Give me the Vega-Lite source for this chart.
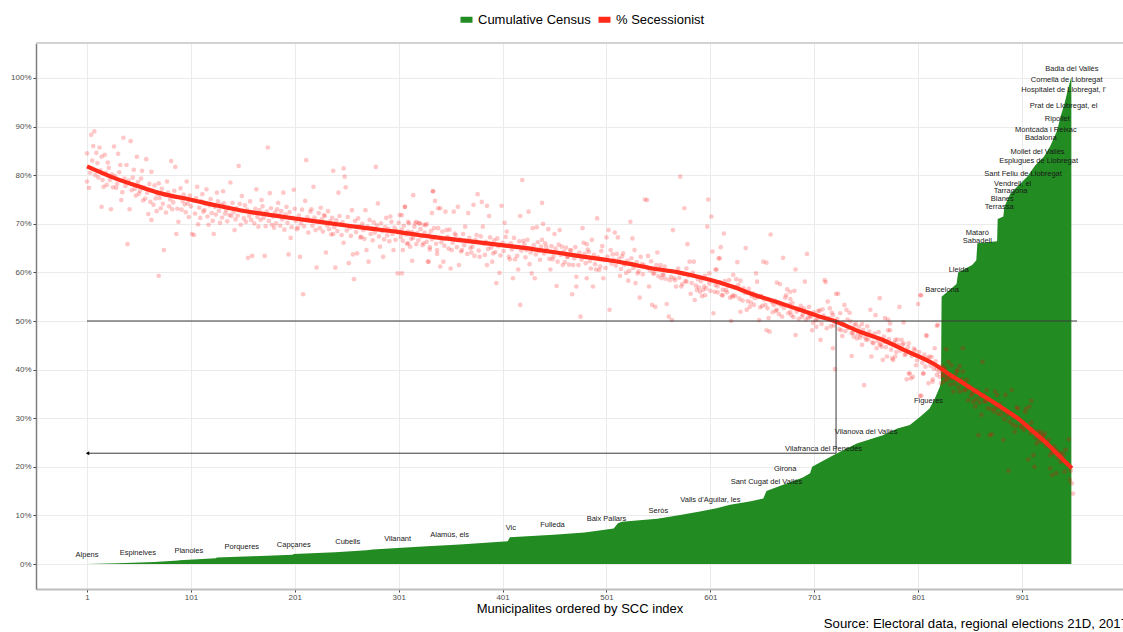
{
"$schema": "https://vega.github.io/schema/vega-lite/v6.json",
"width": 1087, "height": 546,
"autosize": {"type": "none"},
"padding": {"left": 36, "top": 43, "right": 0, "bottom": 43},
"title": {"text": "Source: Electoral data, regional elections 21D, 2017", "orient": "bottom", "anchor": "end", "fontSize": 13.2, "fontWeight": "normal", "font": "Liberation Sans", "color": "#000", "offset": 3, "dx": 4},
"config": {"view": {"stroke": null}, "font": "Liberation Sans",
  "axis": {"gridColor": "#EBEBEB", "gridWidth": 1, "labelColor": "#4D4D4D", "labelFontSize": 8, "tickColor": "#444", "tickSize": 3, "labelFont": "Liberation Sans", "titleFont": "Liberation Sans"},
  "legend": {"orient": "none", "legendX": 424, "legendY": -30, "direction": "horizontal", "labelFontSize": 13, "labelFont": "Liberation Sans", "labelColor": "#000", "symbolType": "M-1,-0.5H1V0.5H-1Z", "symbolSize": 144, "symbolStrokeWidth": 0, "symbolOpacity": 1, "columnPadding": 7, "labelOffset": 5}},
"datasets": {
"census": [{"i":1,"v":0},{"i":30,"v":0.15},{"i":66,"v":0.4},{"i":89,"v":0.7},{"i":90,"v":0.78},{"i":125,"v":1.2},{"i":126,"v":1.35},{"i":160,"v":1.6},{"i":199,"v":1.9},{"i":200,"v":2.05},{"i":240,"v":2.4},{"i":270,"v":2.85},{"i":276,"v":3.0},{"i":324,"v":3.6},{"i":360,"v":4.0},{"i":406,"v":4.7},{"i":408,"v":5.5},{"i":450,"v":6.0},{"i":480,"v":6.5},{"i":508,"v":7.3},{"i":512,"v":8.4},{"i":516,"v":8.7},{"i":533,"v":9.0},{"i":550,"v":9.3},{"i":572,"v":10.1},{"i":591,"v":10.8},{"i":607,"v":11.5},{"i":620,"v":12.2},{"i":640,"v":12.9},{"i":652,"v":13.5},{"i":655,"v":15.0},{"i":671,"v":16.3},{"i":690,"v":17.8},{"i":697,"v":18.7},{"i":699,"v":20.0},{"i":710,"v":21.3},{"i":723,"v":22.8},{"i":742,"v":24.8},{"i":767,"v":26.5},{"i":781,"v":27.9},{"i":793,"v":28.6},{"i":803,"v":30.3},{"i":812,"v":32.0},{"i":817,"v":34.0},{"i":822,"v":36.5},{"i":823,"v":37.5},{"i":823.6,"v":55.0},{"i":838,"v":57.6},{"i":839.5,"v":60.0},{"i":853,"v":61.5},{"i":857,"v":62.5},{"i":858,"v":66.0},{"i":877,"v":66.4},{"i":877.6,"v":71.0},{"i":883,"v":71.5},{"i":884,"v":73.5},{"i":890,"v":76.3},{"i":900,"v":78.4},{"i":906,"v":79.7},{"i":914,"v":82.1},{"i":922,"v":83.8},{"i":928,"v":85.9},{"i":935,"v":89.3},{"i":938,"v":92.0},{"i":942,"v":94.8},{"i":945,"v":97.5},{"i":948,"v":99.9},{"i":948.5,"v":100}],
"smooth": [{"i":1,"v":81.8},{"i":25,"v":79.6},{"i":52,"v":77.6},{"i":75,"v":76.1},{"i":100,"v":75.0},{"i":125,"v":73.8},{"i":148,"v":72.8},{"i":175,"v":71.9},{"i":201,"v":71.1},{"i":225,"v":70.4},{"i":245,"v":69.8},{"i":270,"v":69.1},{"i":301,"v":68.3},{"i":320,"v":67.7},{"i":341,"v":67.1},{"i":370,"v":66.4},{"i":400,"v":65.6},{"i":430,"v":64.8},{"i":456,"v":64.0},{"i":480,"v":63.2},{"i":500,"v":62.6},{"i":522,"v":61.8},{"i":543,"v":60.9},{"i":570,"v":60.0},{"i":591,"v":59.0},{"i":610,"v":57.9},{"i":625,"v":56.9},{"i":639,"v":55.7},{"i":665,"v":53.9},{"i":687,"v":52.3},{"i":705,"v":51.0},{"i":719,"v":50.1},{"i":745,"v":47.8},{"i":767,"v":46.1},{"i":790,"v":43.8},{"i":815,"v":41.3},{"i":832,"v":38.9},{"i":846,"v":37.0},{"i":860,"v":35.1},{"i":880,"v":32.4},{"i":899,"v":29.6},{"i":912,"v":27.2},{"i":925,"v":24.8},{"i":938,"v":22.0},{"i":949,"v":19.7}],
"segs": [{"i":1,"i2":954,"v":50,"v2":50},{"i":722,"i2":722,"v":50,"v2":22.8},{"i":722,"i2":1,"v":22.8,"v2":22.8}],
"head": [{"i":1.5,"v":22.8}],
"labels": [{"n":"Alpens","i":1,"v":1.85},{"n":"Espinelves","i":50,"v":2.2},{"n":"Planoles","i":99,"v":2.7},{"n":"Porqueres","i":150,"v":3.4},{"n":"Capçanes","i":200,"v":3.9},{"n":"Cubells","i":252,"v":4.5},{"n":"Vilanant","i":300,"v":5.2},{"n":"Alamús, els","i":350,"v":5.9},{"n":"Vic","i":409,"v":7.5},{"n":"Fulleda","i":449,"v":8.0},{"n":"Baix Pallars","i":501,"v":9.2},{"n":"Seròs","i":551,"v":11.0},{"n":"Valls d'Aguilar, les","i":601,"v":13.2},{"n":"Sant Cugat del Vallès","i":655,"v":16.8},{"n":"Girona","i":673,"v":19.5},{"n":"Vilafranca del Penedès","i":710,"v":23.6},{"n":"Vilanova del Vallès","i":751,"v":27.2},{"n":"Figueres","i":811,"v":33.5},{"n":"Barcelona","i":824,"v":56.4},{"n":"Lleida","i":840,"v":60.5},{"n":"Mataró","i":858,"v":68.2},{"n":"Sabadell","i":858,"v":66.5},{"n":"Terrassa","i":879,"v":73.4},{"n":"Blanes","i":882,"v":75.1},{"n":"Tarragona","i":890,"v":76.8},{"n":"Vendrell, el","i":892,"v":78.1},{"n":"Sant Feliu de Llobregat","i":902,"v":80.2},{"n":"Mollet del Vallès","i":916,"v":84.7},{"n":"Esplugues de Llobregat","i":917,"v":82.9},{"n":"Badalona","i":919,"v":87.6},{"n":"Montcada i Reixac","i":924,"v":89.2},{"n":"Ripollet","i":935,"v":91.5},{"n":"Prat de Llobregat, el","i":941,"v":94.2},{"n":"Hospitalet de Llobregat, l'","i":941,"v":97.5},{"n":"Cornellà de Llobregat","i":944,"v":99.6},{"n":"Badia del Vallès","i":949,"v":101.9}],
"pts": [
{"i":1,"v":84.5},{"i":5,"v":88.3},{"i":8,"v":89},{"i":7,"v":86},{"i":13,"v":85.7},{"i":10,"v":84.6},{"i":15,"v":83.8},{"i":18,"v":84.2},{"i":21,"v":82.6},{"i":27,"v":85.9},{"i":31,"v":84.4},{"i":36,"v":87.7},{"i":43,"v":87},{"i":39,"v":82.1},{"i":33,"v":82.1},{"i":49,"v":83.8},{"i":58,"v":83.3},{"i":46,"v":81.1},{"i":54,"v":80.9},{"i":63,"v":80.7},{"i":1,"v":78.7},{"i":3,"v":77.4},{"i":15,"v":73.5},{"i":24,"v":73},{"i":29,"v":77.4},{"i":17,"v":77.6},{"i":34,"v":74.9},{"i":42,"v":73},{"i":40,"v":65.8},{"i":52,"v":76.8},{"i":57,"v":75.2},{"i":60,"v":72},{"i":63,"v":70.8},{"i":70,"v":78.3},{"i":70,"v":59.3},{"i":75,"v":64.6},{"i":72,"v":73.2},{"i":78,"v":78.7},{"i":82,"v":82.9},{"i":86,"v":81.7},{"i":83,"v":73},{"i":87,"v":67.9},{"i":89,"v":70.4},{"i":95,"v":74},{"i":97,"v":78.7},{"i":102,"v":67.9},{"i":104,"v":67.7},{"i":107,"v":77.6},{"i":114,"v":72.8},{"i":108,"v":69.9},{"i":118,"v":69.8},{"i":123,"v":67.9},{"i":116,"v":77.1},{"i":126,"v":76.4},{"i":132,"v":76.7},{"i":139,"v":78.5},{"i":147,"v":81.9},{"i":135,"v":72.8},{"i":143,"v":68.7},{"i":140,"v":71.6},{"i":150,"v":75.7},{"i":156,"v":63},{"i":160,"v":63.4},{"i":164,"v":77.1},{"i":159,"v":70.8},{"i":169,"v":74.9},{"i":172,"v":63.4},{"i":175,"v":85.7},{"i":177,"v":76.3},{"i":179,"v":69.8},{"i":184,"v":73},{"i":190,"v":76.4},{"i":195,"v":63.7},{"i":197,"v":67.1},{"i":200,"v":77},{"i":204,"v":69.2},{"i":206,"v":63.2},{"i":209,"v":55.5},{"i":212,"v":83.1},{"i":211,"v":74.7},{"i":217,"v":73},{"i":219,"v":77.6},{"i":222,"v":61},{"i":226,"v":73.3},{"i":231,"v":64.1},{"i":230,"v":71.6},{"i":238,"v":80.9},{"i":238,"v":67.9},{"i":240,"v":61},{"i":243,"v":76.4},{"i":248,"v":81.4},{"i":249,"v":79.7},{"i":250,"v":77.5},{"i":248,"v":66.1},{"i":253,"v":61.9},{"i":256,"v":72.8},{"i":257,"v":63.7},{"i":258,"v":58.6},{"i":261,"v":63.9},{"i":265,"v":67.3},{"i":269,"v":72.8},{"i":270,"v":64.6},{"i":272,"v":62.2},{"i":279,"v":81.7},{"i":281,"v":74.2},{"i":283,"v":65.3},{"i":286,"v":63.2},{"i":293,"v":71.5},{"i":296,"v":64.6},{"i":300,"v":59.8},{"i":302,"v":71.8},{"i":307,"v":73.5},{"i":312,"v":65.3},{"i":317,"v":70.1},{"i":321,"v":70.1},{"i":325,"v":66},{"i":329,"v":62.2},{"i":334,"v":76.7},{"i":338,"v":64.6},{"i":339,"v":73.2},
{"i":4,"v":80.5},{"i":6,"v":83},{"i":9,"v":80},{"i":11,"v":82.5},{"i":12,"v":79.5},{"i":14,"v":81},{"i":16,"v":79},{"i":19,"v":80.5},{"i":20,"v":78},{"i":22,"v":81.5},{"i":23,"v":79},{"i":25,"v":80.2},{"i":26,"v":77.5},{"i":28,"v":79.8},{"i":30,"v":78.2},{"i":32,"v":80.6},{"i":35,"v":76.5},{"i":37,"v":79.3},{"i":38,"v":77.8},{"i":41,"v":78.9},{"i":44,"v":76.9},{"i":45,"v":79.5},{"i":47,"v":77.2},{"i":48,"v":75.8},{"i":50,"v":78.6},{"i":51,"v":76.2},{"i":53,"v":79.3},{"i":55,"v":74.8},{"i":56,"v":77.5},{"i":59,"v":76.4},{"i":61,"v":78.2},{"i":62,"v":74.5},{"i":64,"v":76.8},{"i":65,"v":73.9},{"i":66,"v":77.9},{"i":67,"v":75.2},{"i":68,"v":72.6},{"i":69,"v":76.1},{"i":71,"v":75.3},{"i":73,"v":77.2},{"i":74,"v":74.1},{"i":76,"v":75.9},{"i":77,"v":72.3},{"i":79,"v":76.4},{"i":80,"v":73.6},{"i":81,"v":75},{"i":84,"v":74.4},{"i":85,"v":76.8},{"i":88,"v":73.1},{"i":90,"v":75.5},{"i":91,"v":77.3},{"i":92,"v":72.9},{"i":93,"v":74.7},{"i":94,"v":76},{"i":96,"v":72.4},{"i":98,"v":74.2},{"i":99,"v":71.4},{"i":100,"v":75.8},{"i":101,"v":73.6},{"i":103,"v":74.8},{"i":105,"v":72.1},{"i":106,"v":75.3},{"i":109,"v":73.3},{"i":110,"v":71.2},{"i":111,"v":74.6},{"i":112,"v":76.1},{"i":113,"v":72.5},{"i":115,"v":74.1},{"i":117,"v":71.5},{"i":119,"v":73.8},{"i":120,"v":75.1},{"i":121,"v":72.2},{"i":122,"v":70.6},{"i":124,"v":73.5},{"i":125,"v":71.9},{"i":127,"v":74.6},{"i":128,"v":72.7},{"i":129,"v":70.2},{"i":130,"v":73.9},{"i":131,"v":71.3},{"i":133,"v":74.2},{"i":134,"v":72.1},{"i":136,"v":70.5},{"i":137,"v":73.4},{"i":138,"v":71.8},{"i":141,"v":74.3},{"i":142,"v":72.4},{"i":144,"v":70.9},{"i":145,"v":73.2},{"i":146,"v":71.7},{"i":148,"v":74.1},{"i":149,"v":69.8},{"i":151,"v":72.6},{"i":152,"v":71.1},{"i":153,"v":73.8},{"i":154,"v":70.4},{"i":155,"v":72.9},{"i":157,"v":71.6},{"i":158,"v":74.6},{"i":161,"v":72.2},{"i":162,"v":70.1},{"i":163,"v":73.1},{"i":165,"v":71.4},{"i":166,"v":69.4},{"i":167,"v":72.8},{"i":168,"v":70.8},{"i":170,"v":73.6},{"i":171,"v":71.2},{"i":173,"v":69.5},{"i":174,"v":72.5},{"i":176,"v":70.6},{"i":178,"v":73.2},{"i":180,"v":71.5},{"i":181,"v":69.2},{"i":182,"v":72.3},{"i":183,"v":70.1},{"i":185,"v":74.3},{"i":186,"v":71.8},{"i":187,"v":69.6},{"i":188,"v":72.6},{"i":189,"v":70.9},{"i":191,"v":68.8},{"i":192,"v":71.9},{"i":193,"v":73.5},{"i":194,"v":70.2},{"i":196,"v":72.4},{"i":198,"v":69.3},{"i":199,"v":71.2},{"i":201,"v":73.1},{"i":202,"v":70.6},{"i":203,"v":68.9},{"i":205,"v":71.7},{"i":207,"v":70.1},{"i":208,"v":72.9},{"i":210,"v":69.5},{"i":213,"v":71.4},{"i":214,"v":68.2},{"i":215,"v":70.8},{"i":216,"v":72.5},{"i":218,"v":69.6},{"i":220,"v":71.3},{"i":221,"v":68.7},{"i":223,"v":70.4},{"i":224,"v":72.2},{"i":225,"v":69.1},{"i":227,"v":70.9},{"i":228,"v":68.4},{"i":229,"v":71.8},{"i":232,"v":69.7},{"i":233,"v":72.6},{"i":234,"v":68.9},{"i":235,"v":70.5},{"i":236,"v":67.8},{"i":237,"v":71.2},{"i":239,"v":69.3},{"i":241,"v":70.7},{"i":242,"v":68.5},{"i":244,"v":71.6},{"i":245,"v":69.9},{"i":246,"v":67.7},{"i":247,"v":70.3},{"i":251,"v":68.6},{"i":252,"v":71.4},{"i":254,"v":69.2},{"i":255,"v":67.5},{"i":259,"v":70.6},{"i":260,"v":68.3},{"i":262,"v":71.1},{"i":263,"v":69.5},{"i":264,"v":67.2},{"i":266,"v":70},{"i":267,"v":68.7},{"i":268,"v":66.9},{"i":271,"v":69.4},{"i":273,"v":70.8},{"i":274,"v":67.9},{"i":275,"v":69.1},{"i":276,"v":66.6},{"i":277,"v":70.3},{"i":278,"v":68.2},{"i":280,"v":69.7},{"i":282,"v":67.4},{"i":284,"v":70.1},{"i":285,"v":68.5},{"i":287,"v":66.8},{"i":288,"v":69.3},{"i":289,"v":71.2},{"i":290,"v":67.6},{"i":291,"v":68.9},{"i":292,"v":66.4},{"i":294,"v":70.4},{"i":295,"v":67.9},{"i":297,"v":69.2},{"i":298,"v":66.7},{"i":299,"v":68.6},{"i":301,"v":70.2},{"i":303,"v":67.3},{"i":304,"v":68.8},{"i":305,"v":66.5},{"i":306,"v":69.6},{"i":308,"v":67.8},{"i":309,"v":65.9},{"i":310,"v":68.4},{"i":311,"v":70.1},{"i":313,"v":66.9},{"i":314,"v":68.3},{"i":315,"v":67.1},{"i":316,"v":69.4},{"i":318,"v":65.8},{"i":319,"v":68.1},{"i":320,"v":66.6},{"i":322,"v":68.9},{"i":323,"v":67.4},{"i":324,"v":65.6},{"i":326,"v":68.2},{"i":327,"v":69.7},{"i":328,"v":66.3},{"i":330,"v":67.7},{"i":331,"v":65.2},{"i":332,"v":68.5},{"i":333,"v":66.8},{"i":335,"v":69.1},{"i":336,"v":67.2},{"i":337,"v":65.9},
{"i":304,"v":71.8},{"i":307,"v":73.5},{"i":315,"v":75.9},{"i":310,"v":70.4},{"i":318,"v":70.4},{"i":321,"v":70.1},{"i":325,"v":69.8},{"i":328,"v":70},{"i":334,"v":76.7},{"i":336,"v":74.7},{"i":333,"v":72.2},{"i":341,"v":73.2},{"i":346,"v":72.5},{"i":354,"v":72.5},{"i":358,"v":73.5},{"i":339,"v":69.1},{"i":347,"v":68.7},{"i":355,"v":68},{"i":365,"v":69.4},{"i":368,"v":72.2},{"i":373,"v":73.9},{"i":377,"v":76.1},{"i":381,"v":74.5},{"i":386,"v":73.7},{"i":388,"v":71.6},{"i":382,"v":69.4},{"i":376,"v":67.7},{"i":370,"v":65},{"i":362,"v":64.6},{"i":352,"v":64.6},{"i":341,"v":61.2},{"i":344,"v":62.2},{"i":351,"v":60.8},{"i":359,"v":61.5},{"i":314,"v":62.4},{"i":304,"v":59.8},{"i":305,"v":64.6},{"i":310,"v":66},{"i":330,"v":62.2},{"i":331,"v":64.7},{"i":338,"v":63.8},{"i":371,"v":64.1},{"i":374,"v":63.4},{"i":379,"v":63.2},{"i":386,"v":61.5},{"i":391,"v":62.2},{"i":395,"v":57.8},{"i":398,"v":59.9},{"i":400,"v":73.7},{"i":403,"v":70.2},{"i":405,"v":68.4},{"i":408,"v":62.7},{"i":413,"v":62.7},{"i":411,"v":58.8},{"i":416,"v":60.6},{"i":418,"v":71.6},{"i":420,"v":79},{"i":418,"v":53.3},{"i":421,"v":66.5},{"i":426,"v":72.5},{"i":424,"v":64.6},{"i":427,"v":61.7},{"i":429,"v":59.8},{"i":432,"v":58.8},{"i":434,"v":69.3},{"i":430,"v":69.1},{"i":439,"v":74.3},{"i":439,"v":66.7},{"i":440,"v":70},{"i":443,"v":65.3},{"i":445,"v":68.9},{"i":447,"v":60.6},{"i":449,"v":62.7},{"i":451,"v":67.9},{"i":456,"v":68.7},{"i":453,"v":57.2},{"i":458,"v":65.3},{"i":459,"v":61.5},{"i":463,"v":63.2},{"i":466,"v":64.6},{"i":468,"v":55.5},{"i":469,"v":61.5},{"i":472,"v":57.1},{"i":472,"v":59.1},{"i":476,"v":50.9},{"i":478,"v":69.1},{"i":479,"v":66.1},{"i":482,"v":65.8},{"i":483,"v":64.7},{"i":487,"v":66.7},{"i":482,"v":58.8},{"i":488,"v":57.1},{"i":491,"v":60.6},{"i":492,"v":71.1},{"i":494,"v":60.5},{"i":497,"v":65.4},{"i":498,"v":58.8},{"i":501,"v":67.2},{"i":503,"v":68.7},{"i":504,"v":52.3},{"i":505,"v":64.6},{"i":508,"v":62.6},{"i":509,"v":68.2},{"i":511,"v":63.8},{"i":512,"v":67.2},{"i":514,"v":59.3},{"i":517,"v":63.9},{"i":519,"v":61.9},{"i":520,"v":59.9},{"i":522,"v":58.3},{"i":524,"v":70.4},{"i":526,"v":67},{"i":528,"v":64.6},{"i":529,"v":57.8},{"i":531,"v":59.8},{"i":533,"v":54.8},{"i":534,"v":63.2},{"i":537,"v":61.5},{"i":538,"v":75},{"i":540,"v":74.9},{"i":541,"v":63.4},{"i":542,"v":57.1},{"i":545,"v":53.3},{"i":546,"v":59.8},{"i":548,"v":52.9},{"i":550,"v":64.1},{"i":553,"v":61.5},{"i":554,"v":58.8},{"i":556,"v":59.5},{"i":559,"v":53.5},{"i":561,"v":50.9},{"i":562,"v":58.4},{"i":564,"v":50.2},{"i":565,"v":68.7},{"i":566,"v":58.8},{"i":568,"v":57.1},{"i":570,"v":60.8},{"i":572,"v":79.7},{"i":573,"v":57.1},{"i":576,"v":73.2},{"i":578,"v":60.8},{"i":579,"v":65.8},{"i":578,"v":58.1},{"i":581,"v":62.2},{"i":582,"v":55.6},{"i":585,"v":62.2},{"i":586,"v":54.3},{"i":588,"v":56.4},{"i":591,"v":56},{"i":593,"v":55.1},{"i":594,"v":56.4},{"i":597,"v":56.7},{"i":599,"v":75},{"i":598,"v":69.4},{"i":602,"v":71.5},{"i":603,"v":64.3},{"i":604,"v":51.6},{"i":605,"v":56},{"i":607,"v":60.6},{"i":609,"v":62.9},
{"i":342,"v":66.2},{"i":343,"v":68.4},{"i":345,"v":65.5},{"i":348,"v":67.3},{"i":349,"v":64.9},{"i":350,"v":68.8},{"i":353,"v":66.1},{"i":356,"v":67.6},{"i":357,"v":65.2},{"i":360,"v":66.8},{"i":361,"v":64.3},{"i":363,"v":67.9},{"i":364,"v":65.6},{"i":366,"v":66.4},{"i":367,"v":63.8},{"i":369,"v":67.1},{"i":372,"v":65.3},{"i":375,"v":66.7},{"i":378,"v":64.5},{"i":380,"v":67.4},{"i":383,"v":65.9},{"i":384,"v":63.6},{"i":385,"v":66.3},{"i":387,"v":64.8},{"i":389,"v":67.2},{"i":390,"v":65.1},{"i":392,"v":63.9},{"i":393,"v":66.6},{"i":394,"v":64.2},{"i":396,"v":67},{"i":397,"v":65.4},{"i":399,"v":63.5},{"i":401,"v":66.1},{"i":402,"v":64.4},{"i":404,"v":67.3},{"i":406,"v":65.5},{"i":407,"v":63.2},{"i":409,"v":66},{"i":410,"v":64.7},{"i":412,"v":67.1},{"i":414,"v":65.2},{"i":415,"v":63.4},{"i":417,"v":66.4},{"i":419,"v":64.5},{"i":422,"v":65.8},{"i":423,"v":63.1},{"i":425,"v":66.7},{"i":428,"v":64.1},{"i":431,"v":65.6},{"i":433,"v":63.7},{"i":435,"v":66.2},{"i":436,"v":64.4},{"i":437,"v":62.6},{"i":438,"v":65.3},{"i":441,"v":63.9},{"i":442,"v":66},{"i":444,"v":64.6},{"i":446,"v":62.8},{"i":448,"v":65.4},{"i":450,"v":63.3},{"i":452,"v":64.9},{"i":454,"v":62.2},{"i":455,"v":65.7},{"i":457,"v":63.6},{"i":460,"v":64.3},{"i":461,"v":62.1},{"i":462,"v":65.1},{"i":464,"v":63.2},{"i":465,"v":61.6},{"i":467,"v":64.5},{"i":470,"v":62.9},{"i":471,"v":65.2},{"i":473,"v":63.4},{"i":474,"v":61.5},{"i":475,"v":64.1},{"i":477,"v":62.6},{"i":480,"v":63.8},{"i":481,"v":61.9},{"i":484,"v":64.2},{"i":485,"v":62.3},{"i":486,"v":60.8},{"i":489,"v":63.6},{"i":490,"v":61.7},{"i":493,"v":63.1},{"i":495,"v":61.2},{"i":496,"v":64.4},{"i":499,"v":62.5},{"i":500,"v":60.9},{"i":502,"v":63.2},{"i":506,"v":61.8},{"i":507,"v":63.7},{"i":510,"v":61.4},{"i":513,"v":62.8},{"i":515,"v":60.7},{"i":516,"v":63.3},{"i":518,"v":61.6},{"i":521,"v":62.4},{"i":523,"v":60.3},{"i":525,"v":62.9},{"i":527,"v":60.9},{"i":530,"v":62.1},{"i":532,"v":60.2},{"i":535,"v":61.7},{"i":536,"v":59.6},{"i":539,"v":61.1},{"i":543,"v":60.4},{"i":544,"v":62.3},{"i":547,"v":59.8},{"i":549,"v":61.5},{"i":551,"v":59.2},{"i":552,"v":60.8},{"i":555,"v":59.5},{"i":557,"v":61.2},{"i":558,"v":58.7},{"i":560,"v":60.3},{"i":563,"v":59.1},{"i":567,"v":58.4},{"i":569,"v":60.1},{"i":571,"v":58.9},{"i":574,"v":57.6},{"i":575,"v":59.7},{"i":577,"v":58.2},{"i":580,"v":59.4},{"i":583,"v":57.8},{"i":584,"v":59.9},{"i":587,"v":57.3},{"i":589,"v":58.6},{"i":590,"v":56.9},{"i":592,"v":58.2},{"i":595,"v":57.1},{"i":596,"v":59.3},{"i":600,"v":57.7},{"i":601,"v":56.2},{"i":606,"v":57.4},{"i":608,"v":55.9},
{"i":614,"v":68},{"i":659,"v":67.8},{"i":611,"v":65.2},{"i":610,"v":62.9},{"i":606,"v":60.6},{"i":600,"v":59.8},{"i":596,"v":55.3},{"i":608,"v":57.1},{"i":612,"v":55.3},{"i":616,"v":56.4},{"i":619,"v":58.4},{"i":623,"v":59.5},{"i":626,"v":58.6},{"i":630,"v":58.3},{"i":627,"v":62.1},{"i":635,"v":65},{"i":645,"v":59.8},{"i":652,"v":62.2},{"i":655,"v":62},{"i":646,"v":58.1},{"i":633,"v":56.7},{"i":623,"v":55.3},{"i":622,"v":55},{"i":613,"v":55.3},{"i":621,"v":50},{"i":630,"v":51.9},{"i":636,"v":52.3},{"i":639,"v":52.9},{"i":641,"v":55.1},{"i":644,"v":54.7},{"i":654,"v":53.3},{"i":657,"v":50.6},{"i":648,"v":50.2},{"i":655,"v":48.1},{"i":658,"v":47.8},{"i":662,"v":53.3},{"i":665,"v":52.3},{"i":668,"v":57.6},{"i":665,"v":57.9},{"i":671,"v":63},{"i":675,"v":56.5},{"i":678,"v":56},{"i":674,"v":55.3},{"i":678,"v":54.5},{"i":682,"v":56.2},{"i":683,"v":60.6},{"i":678,"v":51.9},{"i":684,"v":51.9},{"i":687,"v":52.3},{"i":683,"v":47.1},{"i":689,"v":50.9},{"i":692,"v":58.1},{"i":694,"v":63.8},{"i":693,"v":50.3},{"i":697,"v":50.8},{"i":699,"v":48.1},{"i":702,"v":50.2},{"i":703,"v":48.8},{"i":706,"v":52.1},{"i":707,"v":46.1},{"i":709,"v":52.4},{"i":711,"v":58.4},{"i":712,"v":58},{"i":714,"v":54},{"i":716,"v":52.6},{"i":719,"v":51.2},{"i":713,"v":48.5},{"i":719,"v":44.4},{"i":721,"v":40.1},{"i":722,"v":55.6},{"i":724,"v":55.6},{"i":726,"v":51.6},{"i":727,"v":48.1},{"i":728,"v":46.9},{"i":730,"v":53.3},{"i":732,"v":52.3},{"i":735,"v":51.7},{"i":737,"v":47.5},{"i":739,"v":46.8},{"i":741,"v":49.5},{"i":742,"v":46.4},{"i":745,"v":46.6},{"i":747,"v":49.4},{"i":747,"v":45.1},{"i":737,"v":42.8},{"i":749,"v":36.8},{"i":751,"v":46.1},{"i":755,"v":52.3},{"i":756,"v":42.7},{"i":758,"v":45.4},{"i":760,"v":51.2},{"i":761,"v":44.4},{"i":764,"v":54.7},{"i":766,"v":44.7},{"i":767,"v":42},{"i":769,"v":50.6},{"i":771,"v":42.7},{"i":772,"v":50.3},{"i":774,"v":48.1},{"i":776,"v":42.3},{"i":779,"v":42.7},{"i":783,"v":52.9},{"i":785,"v":46.1},{"i":787,"v":45.4},{"i":792,"v":39.2},{"i":794,"v":38.2},{"i":790,"v":38},{"i":799,"v":40.9},{"i":801,"v":53.5},{"i":803,"v":55.3},{"i":804,"v":34.6},{"i":806,"v":39.2},{"i":809,"v":46.9},{"i":811,"v":37.2},{"i":812,"v":42.7},{"i":815,"v":37.5},{"i":817,"v":44.4},{"i":819,"v":49},{"i":819,"v":40.1},{"i":822,"v":38.5},{"i":823,"v":37.2},{"i":804,"v":55.3},{"i":774,"v":49.5},{"i":787,"v":49.7},{"i":772,"v":48.1},{"i":809,"v":47.1},{"i":820,"v":49.2},{"i":764,"v":45.1},{"i":769,"v":45.7},{"i":779,"v":46.1},{"i":782,"v":45.1},{"i":792,"v":45.4},{"i":798,"v":44},{"i":777,"v":42},{"i":788,"v":43},{"i":806,"v":39.2},{"i":793,"v":39.2},{"i":796,"v":38.5},{"i":815,"v":38},{"i":803,"v":34.6},{"i":819,"v":38.9},
{"i":611,"v":57.9},{"i":613,"v":56.4},{"i":615,"v":58.2},{"i":617,"v":55.9},{"i":618,"v":57.3},{"i":620,"v":54.8},{"i":624,"v":56.9},{"i":625,"v":55.1},{"i":628,"v":57.4},{"i":629,"v":54.6},{"i":631,"v":56.3},{"i":632,"v":54.2},{"i":634,"v":55.8},{"i":637,"v":54.1},{"i":638,"v":56.6},{"i":640,"v":53.8},{"i":642,"v":55.7},{"i":643,"v":53.3},{"i":647,"v":54.9},{"i":649,"v":52.8},{"i":650,"v":55.2},{"i":651,"v":53.1},{"i":653,"v":54.4},{"i":656,"v":52.6},{"i":660,"v":53.9},{"i":661,"v":51.8},{"i":663,"v":54.2},{"i":664,"v":52.1},{"i":666,"v":53.6},{"i":667,"v":51.4},{"i":669,"v":53.2},{"i":670,"v":50.9},{"i":672,"v":52.7},{"i":673,"v":54.8},{"i":676,"v":51.6},{"i":677,"v":53.4},{"i":679,"v":51.2},{"i":680,"v":53.7},{"i":681,"v":50.8},{"i":685,"v":52.5},{"i":686,"v":50.4},{"i":688,"v":53.1},{"i":690,"v":51.3},{"i":691,"v":52.6},{"i":695,"v":50.7},{"i":696,"v":52.9},{"i":698,"v":51.1},{"i":700,"v":49.6},{"i":701,"v":51.8},{"i":704,"v":50.2},{"i":705,"v":52.1},{"i":708,"v":49.4},{"i":710,"v":51.1},{"i":715,"v":50.6},{"i":717,"v":48.9},{"i":718,"v":51.7},{"i":720,"v":49.1},{"i":723,"v":50.4},{"i":725,"v":48.3},{"i":729,"v":49.8},{"i":731,"v":47.9},{"i":733,"v":50.3},{"i":734,"v":48.6},{"i":736,"v":49.9},{"i":738,"v":47.6},{"i":740,"v":49.1},{"i":743,"v":47.3},{"i":744,"v":48.8},{"i":746,"v":47.1},{"i":748,"v":48.2},{"i":750,"v":46.6},{"i":752,"v":48.9},{"i":753,"v":46.2},{"i":754,"v":47.8},{"i":757,"v":45.6},{"i":759,"v":47.4},{"i":762,"v":45.9},{"i":763,"v":47.7},{"i":765,"v":45.2},{"i":768,"v":46.8},{"i":770,"v":44.6},{"i":773,"v":46.3},{"i":775,"v":44.1},{"i":778,"v":45.5},{"i":780,"v":43.6},{"i":781,"v":46.2},{"i":784,"v":43.9},{"i":786,"v":45.1},{"i":789,"v":43.2},{"i":791,"v":44.6},{"i":795,"v":42.8},{"i":797,"v":44.3},{"i":800,"v":41.9},{"i":802,"v":43.6},{"i":805,"v":41.4},{"i":807,"v":43.1},{"i":808,"v":40.6},{"i":810,"v":42.4},{"i":813,"v":40.8},{"i":814,"v":42.6},{"i":816,"v":40.2},{"i":818,"v":41.7},{"i":821,"v":39.6},{"i":824,"v":40.8},{"i":825,"v":38.7},{"i":826,"v":40.3},{"i":829,"v":38.9},
{"i":828,"v":44.2},{"i":844,"v":44.4},{"i":830,"v":41.6},{"i":833,"v":40.9},{"i":841,"v":40.7},{"i":838,"v":39.6},{"i":825,"v":38.9},{"i":828,"v":38.2},{"i":833,"v":38.2},{"i":839,"v":39.9},{"i":844,"v":39.6},{"i":848,"v":37.9},{"i":843,"v":38},{"i":835,"v":35.5},{"i":841,"v":35.5},{"i":851,"v":36.5},{"i":853,"v":35.1},{"i":849,"v":33.7},{"i":854,"v":33.4},{"i":856,"v":32.4},{"i":863,"v":41.6},{"i":861,"v":34.4},{"i":864,"v":34.8},{"i":867,"v":35.8},{"i":865,"v":33.4},{"i":875,"v":35.5},{"i":877,"v":34.8},{"i":880,"v":32.9},{"i":885,"v":34.8},{"i":891,"v":35.8},{"i":862,"v":30.7},{"i":859,"v":26.5},{"i":870,"v":26.5},{"i":872,"v":26.7},{"i":875,"v":32},{"i":881,"v":30.7},{"i":883,"v":25.5},{"i":886,"v":31.3},{"i":891,"v":31},{"i":894,"v":27.2},{"i":896,"v":32.2},{"i":897,"v":32},{"i":899,"v":29.6},{"i":900,"v":28.3},{"i":904,"v":31.3},{"i":905,"v":32},{"i":908,"v":32.4},{"i":910,"v":29.1},{"i":910,"v":33.6},{"i":907,"v":21.5},{"i":912,"v":22.4},{"i":913,"v":20},{"i":915,"v":24.8},{"i":919,"v":27.2},{"i":922,"v":26.2},{"i":923,"v":26.9},{"i":925,"v":25.2},{"i":926,"v":24.8},{"i":928,"v":22.4},{"i":929,"v":23.8},{"i":931,"v":22.8},{"i":933,"v":23.1},{"i":934,"v":23.5},{"i":936,"v":22.8},{"i":939,"v":22.8},{"i":943,"v":23.5},{"i":938,"v":21},{"i":928,"v":19.7},{"i":930,"v":18.3},{"i":934,"v":18.7},{"i":942,"v":19},{"i":888,"v":19.2},{"i":946,"v":25.7},{"i":947,"v":17.3},{"i":949,"v":16.6},{"i":950,"v":14.5},{"i":945,"v":20.4},
{"i":824,"v":39.4},{"i":826,"v":37.6},{"i":827,"v":40.1},{"i":829,"v":37.9},{"i":831,"v":38.6},{"i":832,"v":36.9},{"i":834,"v":38.2},{"i":836,"v":37.1},{"i":837,"v":38.8},{"i":840,"v":36.4},{"i":842,"v":37.5},{"i":845,"v":35.7},{"i":846,"v":37.2},{"i":847,"v":35.9},{"i":850,"v":36.2},{"i":852,"v":34.6},{"i":855,"v":35.4},{"i":857,"v":33.9},{"i":858,"v":35.8},{"i":860,"v":33.2},{"i":866,"v":33.6},{"i":868,"v":32.1},{"i":869,"v":33.8},{"i":871,"v":31.9},{"i":873,"v":33.2},{"i":874,"v":31.4},{"i":876,"v":32.7},{"i":878,"v":30.9},{"i":879,"v":32.3},{"i":882,"v":31.6},{"i":884,"v":29.8},{"i":887,"v":30.7},{"i":889,"v":29.3},{"i":890,"v":30.9},{"i":892,"v":28.7},{"i":893,"v":30.2},{"i":895,"v":28.4},{"i":898,"v":29.9},{"i":901,"v":28.1},{"i":902,"v":29.3},{"i":903,"v":27.6},{"i":906,"v":28.6},{"i":909,"v":26.9},{"i":911,"v":27.8},{"i":914,"v":26.1},{"i":916,"v":27.3},{"i":917,"v":25.4},{"i":918,"v":26.7},{"i":920,"v":25.1},{"i":921,"v":26.4},{"i":924,"v":24.3},{"i":927,"v":25.6},{"i":930,"v":23.1},{"i":932,"v":24.2},{"i":935,"v":21.9},{"i":937,"v":22.6},{"i":940,"v":21.2},{"i":941,"v":22.4},{"i":944,"v":20.6},{"i":948,"v":19.2}
]},
"layer": [
{"data": {"name": "census"}, "mark": {"type": "area", "interpolate": "linear", "opacity": 1},
 "encoding": {
  "x": {"field": "i", "type": "quantitative", "scale": {"domain": [-48.1, 998.2], "nice": false, "zero": false},
        "axis": {"values": [1,101,201,301,401,501,601,701,801,901], "title": "Municipalites ordered by SCC index", "titleFontSize": 13, "titleFontWeight": "normal", "titleColor": "#000", "titlePadding": 1, "domainColor": "#BEBEBE", "domainWidth": 2, "labelPadding": 1}},
  "y": {"field": "v", "type": "quantitative", "scale": {"domain": [-5.14, 107.2], "nice": false, "zero": false},
        "axis": {"values": [0,10,20,30,40,50,60,70,80,90,100], "labelExpr": "datum.value + '%'", "title": null, "domainColor": "#7F7F7F", "domainWidth": 1.5, "labelPadding": 2}},
  "color": {"datum": "Cumulative Census", "type": "nominal", "scale": {"domain": ["Cumulative Census", "% Secessionist"], "range": ["#228B22", "#FF2A1A"]}, "legend": {"title": null}}
 }},
{"data": {"name": "pts"}, "mark": {"type": "circle", "size": 22, "color": "#FF0000", "opacity": 0.22},
 "encoding": {"x": {"field": "i", "type": "quantitative"}, "y": {"field": "v", "type": "quantitative"}}},
{"data": {"name": "smooth"}, "mark": {"type": "line", "color": "#FF2A1A", "strokeWidth": 4.2, "interpolate": "monotone"},
 "encoding": {"x": {"field": "i", "type": "quantitative"}, "y": {"field": "v", "type": "quantitative"}}},
{"data": {"name": "segs"}, "mark": {"type": "rule", "color": "#3A3A3A", "strokeWidth": 1},
 "encoding": {"x": {"field": "i", "type": "quantitative"}, "x2": {"field": "i2"}, "y": {"field": "v", "type": "quantitative"}, "y2": {"field": "v2"}}},
{"data": {"name": "head"}, "mark": {"type": "point", "shape": "triangle-left", "filled": true, "size": 16, "color": "#000", "opacity": 1},
 "encoding": {"x": {"field": "i", "type": "quantitative"}, "y": {"field": "v", "type": "quantitative"}}},
{"data": {"values": [{"v": 107.2}]}, "mark": {"type": "rule", "color": "#D3D3D3", "strokeWidth": 2},
 "encoding": {"y": {"field": "v", "type": "quantitative"}}},
{"data": {"name": "labels"}, "mark": {"type": "text", "fontSize": 7.5, "color": "#1A1A1A", "align": "center", "baseline": "middle", "font": "Liberation Sans"},
 "encoding": {"x": {"field": "i", "type": "quantitative"}, "y": {"field": "v", "type": "quantitative"}, "text": {"field": "n"}}}
]
}
